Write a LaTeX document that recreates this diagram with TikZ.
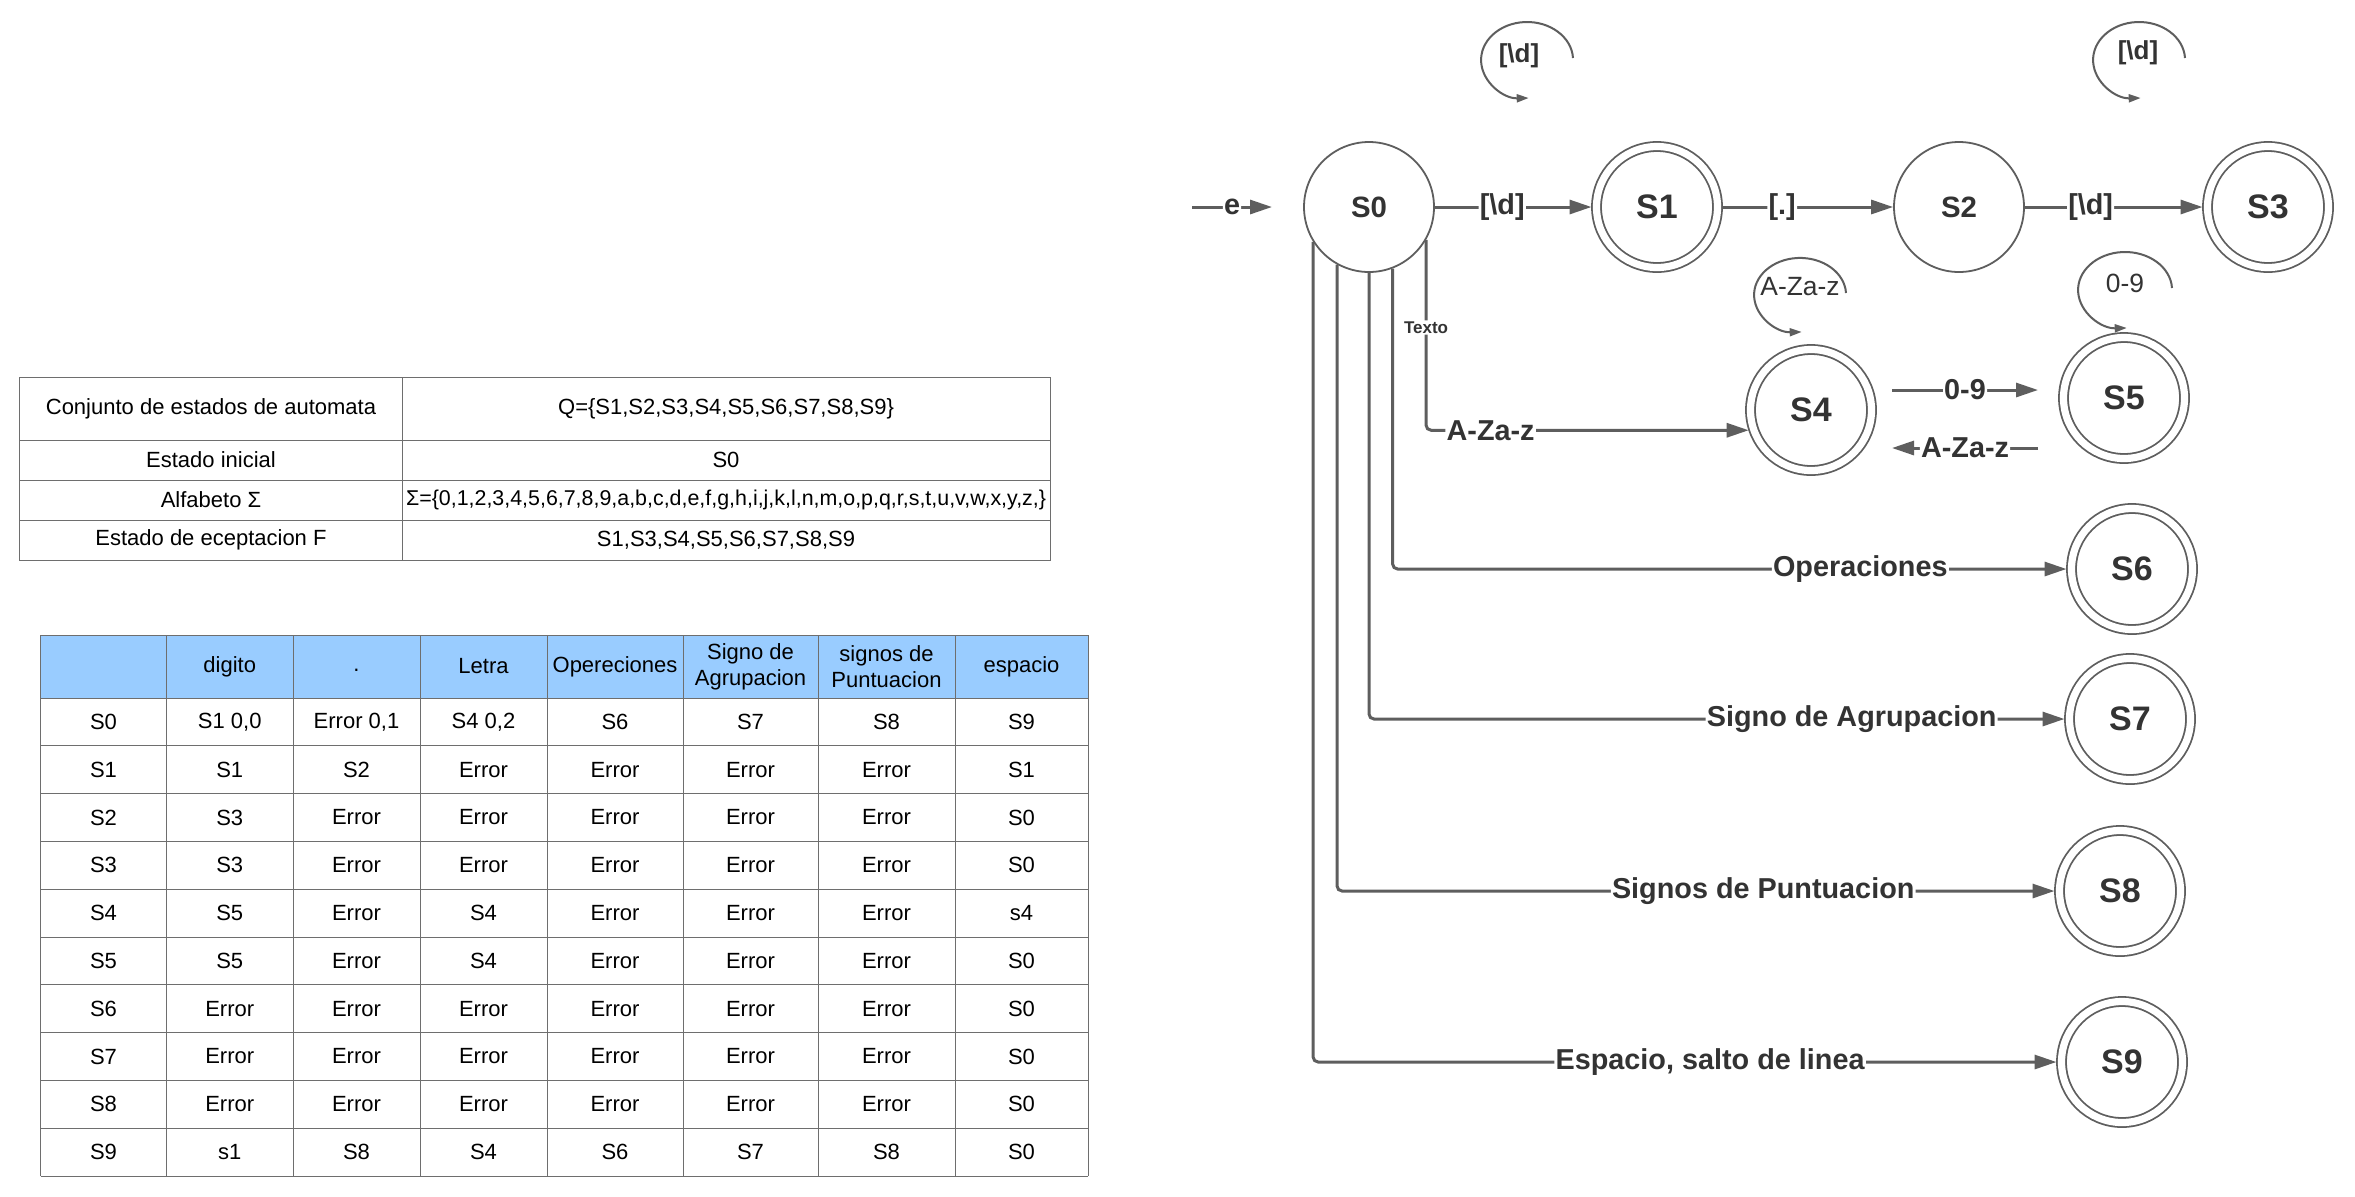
\documentclass[tikz,border=0pt]{standalone}
\usepackage{fontspec}
\setmainfont{Liberation Sans}
\usetikzlibrary{arrows.meta}

\definecolor{trazo}{HTML}{5E5E5E}
\definecolor{letra}{HTML}{333333}
\definecolor{rejilla}{HTML}{6E6E6E}
\definecolor{cabecera}{HTML}{99CCFF}

\tikzset{
  estado/.style={circle, draw=trazo, line width=0.9pt, minimum size=65pt,
    inner sep=0pt, text=letra, font=\fontsize{14.7}{16}\selectfont\bfseries},
  aceptacion/.style={estado, double, double distance=3.6pt, minimum size=60.5pt,
    outer sep=2.5pt, font=\fontsize{17}{19}\selectfont\bfseries},
  trans/.style={draw=trazo, line width=1.5pt, rounded corners=2.5pt,
    -{Triangle[length=11pt,width=7pt]}},
  etiq/.style={fill=white, text=letra, inner sep=0.6pt,
    font=\fontsize{14.4}{16}\selectfont\bfseries},
  lazo/.style={draw=trazo, line width=1pt, -{Triangle[length=6pt,width=4pt]}},
  etiqlazo/.style={text=letra, inner sep=0pt, font=\fontsize{13.2}{15}\selectfont},
  celda/.style={inner sep=0pt, align=center, font=\fontsize{11}{12.8}\selectfont},
  linea/.style={draw=rejilla, line width=0.5pt}
}

\begin{document}
\begin{tikzpicture}[x=0.5pt,y=-0.5pt]
  % Page background
  \fill[white] (0,0) rectangle (2355,1196);

  % Definition table of the automaton
  \draw[linea] (19.5,377) rectangle (1050,560);
  \foreach \y in {440,480,520} \draw[linea] (19.5,\y) -- (1050,\y);
  \draw[linea] (402,377) -- (402,560);
  \node[celda] (q1) at (211,408.5) {Conjunto de estados de automata};
  \node[celda] (q2) at (726,408.5) {Q=\{S1,S2,S3,S4,S5,S6,S7,S8,S9\}};
  \node[celda] (i1) at (211,460) {Estado inicial};
  \node[celda] (i2) at (726,460) {S0};
  \node[celda] (a1) at (211,500) {Alfabeto Σ};
  \node[celda, font=\fontsize{10.7}{12.8}\selectfont] (a2) at (726,500)
    {Σ=\{0,1,2,3,4,5,6,7,8,9,a,b,c,d,e,f,g,h,i,j,k,l,n,m,o,p,q,r,s,t,u,v,w,x,y,z,\}};
  \node[celda] (f1) at (211,540) {Estado de eceptacion F};
  \node[celda] (f2) at (726,540) {S1,S3,S4,S5,S6,S7,S8,S9};

  % Transition table
  \fill[cabecera] (40.5,635) rectangle (1088,698);
  \draw[linea] (40.5,635) -- (1088,635);
  \foreach \r in {0,...,10} \draw[linea] (40.5,{698+47.8*\r}) -- (1088,{698+47.8*\r});
  \foreach \x in {40.5,166.5,293,420,547,683,818,955,1088} \draw[linea] (\x,635) -- (\x,1176);
  \foreach \txt [count=\c] in {{}, digito, {\vphantom{Ag}.}, Letra, Opereciones, {Signo de\\Agrupacion},
      {signos de\\Puntuacion}, espacio} {
    \pgfmathsetmacro\cx{{103.5,229.75,356.5,483.5,615,750.5,886.5,1021.5}[\c-1]}
    \node[celda] (h\c) at (\cx,666.5) {\txt};
  }
  \foreach \fila [count=\r] in {
      {S0,{S1 0,0},{Error 0,1},{S4 0,2},S6,S7,S8,S9},
      {S1,S1,S2,Error,Error,Error,Error,S1},
      {S2,S3,Error,Error,Error,Error,Error,S0},
      {S3,S3,Error,Error,Error,Error,Error,S0},
      {S4,S5,Error,S4,Error,Error,Error,s4},
      {S5,S5,Error,S4,Error,Error,Error,S0},
      {S6,Error,Error,Error,Error,Error,Error,S0},
      {S7,Error,Error,Error,Error,Error,Error,S0},
      {S8,Error,Error,Error,Error,Error,Error,S0},
      {S9,s1,S8,S4,S6,S7,S8,S0}} {
    \foreach \txt [count=\c] in \fila {
      \pgfmathsetmacro\cx{{103.5,229.75,356.5,483.5,615,750.5,886.5,1021.5}[\c-1]}
      \node[celda] (c\r-\c) at (\cx,{698+47.8*(\r-0.5)}) {\txt};
    }
  }

  % States of the automaton
  \node[estado] (S0) at (1369,207) {S0};
  \node[aceptacion] (S1) at (1657,207) {S1};
  \node[estado] (S2) at (1959,207) {S2};
  \node[aceptacion] (S3) at (2268,207) {S3};
  \node[aceptacion] (S4) at (1811,410) {S4};
  \node[aceptacion] (S5) at (2124,398) {S5};
  \node[aceptacion] (S6) at (2132,569) {S6};
  \node[aceptacion] (S7) at (2130,719) {S7};
  \node[aceptacion] (S8) at (2120,891) {S8};
  \node[aceptacion] (S9) at (2122,1062) {S9};

  % Entry arrow and the number path
  \coordinate (ini) at (1192,207);
  \coordinate (inifin) at (1272,207);
  \draw[trans] (ini) -- node[etiq] (ee) {e} (inifin);
  \draw[trans] (S0) -- node[etiq, pos=0.43] (e01) {[\textbackslash d]} (S1);
  \draw[trans] (S1) -- node[etiq, pos=0.35] (e12) {[.]} (S2);
  \draw[trans] (S2) -- node[etiq, pos=0.37] (e23) {[\textbackslash d]} (S3);

  % Branches leaving S0
  \draw[trans] (S0.330) |- node[etiq, pos=0.23, font=\fontsize{8.5}{10}\selectfont\bfseries] (tx) {Texto}
    node[etiq, pos=0.6] (e04) {A-Za-z} (S4.198);
  \draw[trans] (S0.291) |- node[etiq, pos=0.847] (e06) {Operaciones} (S6);
  \draw[trans] (S0.270) |- node[etiq, pos=0.847] (e07) {Signo de Agrupacion} (S7);
  \draw[trans] (S0.241) |- node[etiq, pos=0.797] (e08) {Signos de Puntuacion} (S8);
  \draw[trans] (S0.212) |- node[etiq, pos=0.767] (e09) {Espacio, salto de linea} (S9);

  % Between S4 and S5
  \coordinate (p45) at (1892,390);
  \coordinate (q45) at (2038,390);
  \coordinate (p54) at (2038,448);
  \coordinate (q54) at (1892,448);
  \draw[trans] (p45) -- node[etiq] (e45) {0-9} (q45);
  \draw[trans] (p54) -- node[etiq] (e54) {A-Za-z} (q54);

  % Self loops
  \coordinate (l1) at (1573,58);
  \draw[lazo] (l1) arc[start angle=-3, end angle=-272, x radius=46, y radius=38];
  \node[etiqlazo, font=\fontsize{13}{15}\selectfont\bfseries] (el1) at (1519,56) {[\textbackslash d]};
  \coordinate (l3) at (2185,58);
  \draw[lazo] (l3) arc[start angle=-3, end angle=-272, x radius=46, y radius=38];
  \node[etiqlazo, font=\fontsize{13}{15}\selectfont\bfseries] (el3) at (2138,53) {[\textbackslash d]};
  \coordinate (l4) at (1846,293);
  \draw[lazo] (l4) arc[start angle=-3, end angle=-272, x radius=46, y radius=37];
  \node[etiqlazo] (el4) at (1800,287) {A-Za-z};
  \coordinate (l5) at (2172,288);
  \draw[lazo] (l5) arc[start angle=-3, end angle=-272, x radius=47, y radius=38];
  \node[etiqlazo] (el5) at (2125,283) {0-9};
\end{tikzpicture}
\end{document}
